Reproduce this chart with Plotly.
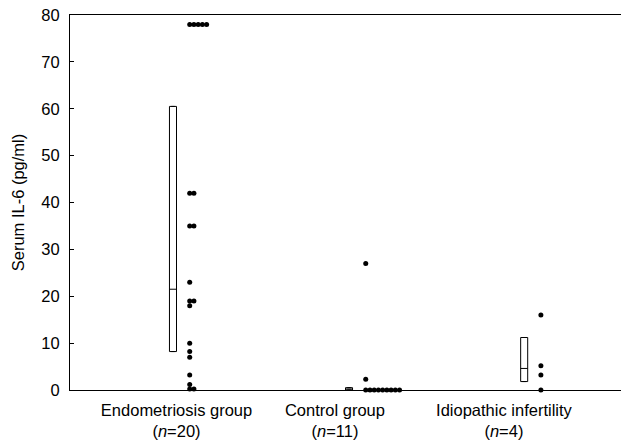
import plotly.graph_objects as go
from collections import Counter

categories = ["Endometriosis group", "Control group", "Idiopathic infertility"]
n_labels = ["(<i>n</i>=20)", "(<i>n</i>=11)", "(<i>n</i>=4)"]

endometriosis = [78, 78, 78, 78, 78, 42, 42, 35, 35, 23, 19, 19, 18, 10, 8.2, 7, 3.2, 1.2, 0.2, 0.2]
control = [27, 2.3, 0, 0, 0, 0, 0, 0, 0, 0, 0]
idiopathic = [16, 5.2, 3.2, 0]
groups = [endometriosis, control, idiopathic]

# box statistics (q1, median, q3)
box_q1 = [8.2, 0.0, 1.8]
box_median = [21.5, 0.2, 4.6]
box_q3 = [60.5, 0.5, 11.2]

y_ticks = [0, 10, 20, 30, 40, 50, 60, 70, 80]

# layout constants (positions, not data)
box_pos = [0.0, 1.0, 1.995]
dot_offset = 0.095
dot_step = 0.024
label_pos = [0.02, 0.92, 1.88]

fig = go.Figure()

for i, vals in enumerate(groups):
    fig.add_trace(go.Box(
        x=[box_pos[i]], q1=[box_q1[i]], median=[box_median[i]], q3=[box_q3[i]],
        lowerfence=[box_q1[i]], upperfence=[box_q3[i]],
        width=0.04, fillcolor="white", line=dict(color="black", width=1),
        boxpoints=False, showlegend=False, hoverinfo="skip",
    ))
    seen = Counter()
    xs, ys = [], []
    for v in vals:
        k = seen[v]
        seen[v] += 1
        xs.append(box_pos[i] + dot_offset + k * dot_step)
        ys.append(v)
    fig.add_trace(go.Scatter(
        x=xs, y=ys, mode="markers",
        marker=dict(color="black", size=5),
        showlegend=False, cliponaxis=False,
    ))

fig.update_layout(
    width=621, height=442,
    margin=dict(l=70, r=0, t=15, b=52),
    paper_bgcolor="white", plot_bgcolor="white",
    font=dict(family="Liberation Sans, Arial, sans-serif", size=16.5, color="black"),
    xaxis=dict(
        range=[-0.585, 2.545], showgrid=False, zeroline=False, automargin=False,
        showline=True, mirror=True, linecolor="black", linewidth=1,
        tickmode="array", tickvals=label_pos,
        ticktext=[f"{c}<br>{n}" for c, n in zip(categories, n_labels)],
        ticks="", tickfont=dict(size=16.5), ticklabelstandoff=5,
        ticklabeloverflow="allow",
    ),
    yaxis=dict(
        range=[0, 80], showgrid=False, zeroline=False, automargin=False,
        showline=True, linecolor="black", linewidth=1,
        tickmode="array", tickvals=y_ticks,
        ticks="inside", ticklen=4, tickcolor="black", ticklabelstandoff=6,
        ticklabeloverflow="allow",
        title=dict(text="Serum IL-6 (pg/ml)", font=dict(size=16.5), standoff=12),
        tickfont=dict(size=16.5),
    ),
)

fig.write_html(
    "out.html",
    config={"displayModeBar": False},
    post_script="document.body.style.margin='0';document.body.style.overflow='hidden';",
)
